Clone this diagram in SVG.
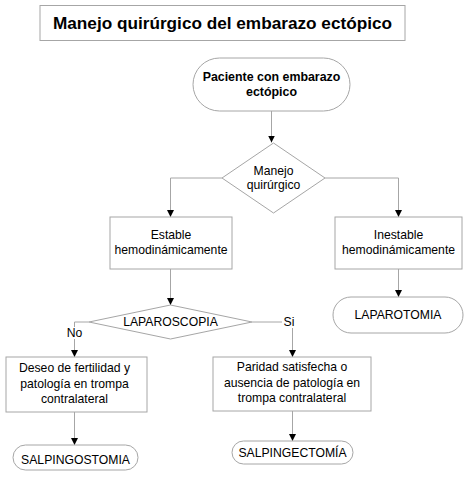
<svg xmlns="http://www.w3.org/2000/svg" width="474" height="479" viewBox="0 0 474 479">
<style>
.shape{fill:#fff;stroke:#a6a6a6;stroke-width:1}
.edge{fill:none;stroke:#a6a6a6;stroke-width:1}
text{font-family:"Liberation Sans",Arial,sans-serif;fill:#000;text-anchor:middle}
.r{font-size:12.2px}
.b{font-size:12.4px;font-weight:bold}
.t{font-size:17.2px;font-weight:bold}
</style>
<defs>
<marker id="ah" viewBox="0 0 8 8" refX="8" refY="4" markerWidth="7" markerHeight="7" markerUnits="userSpaceOnUse" orient="auto">
<path d="M0,0 L8,4 L0,8 z" fill="#000"/>
</marker>
</defs>
<rect width="474" height="479" fill="#fff"/>
<g id="title">
<rect class="shape" x="40" y="5.5" width="365" height="35"/>
<text class="t" x="222.5" y="28.5">Manejo quirúrgico del embarazo ectópico</text>
</g>
<g id="edges">
<path class="edge" d="M271.5,111 V142.5" marker-end="url(#ah)"/>
<path class="edge" d="M222,178 H170.5 V217" marker-end="url(#ah)"/>
<path class="edge" d="M325,178 H398.5 V217" marker-end="url(#ah)"/>
<path class="edge" d="M398.5,269 V297" marker-end="url(#ah)"/>
<path class="edge" d="M170.5,269 V305" marker-end="url(#ah)"/>
<path class="edge" d="M89,322 H74.5 V357" marker-end="url(#ah)"/>
<path class="edge" d="M252,322 H292.5 V357" marker-end="url(#ah)"/>
<path class="edge" d="M74.5,412 V445" marker-end="url(#ah)"/>
<path class="edge" d="M292.5,411 V441" marker-end="url(#ah)"/>
<rect x="66" y="327" width="17" height="12" fill="#fff"/>
<text class="r" x="74.5" y="337">No</text>
<rect x="282" y="314" width="14" height="14" fill="#fff"/>
<text class="r" x="289" y="326">Si</text>
</g>
<g id="start">
<rect class="shape" x="193" y="58" width="157" height="53" rx="26.5"/>
<text class="b" x="271.5" y="81">Paciente con embarazo</text>
<text class="b" x="271.5" y="96">ectópico</text>
</g>
<g id="decision1">
<polygon class="shape" points="273.5,143 325,178 273.5,213 222,178"/>
<text class="r" x="273.5" y="175">Manejo</text>
<text class="r" x="273.5" y="189">quirúrgico</text>
</g>
<g id="estable">
<rect class="shape" x="110" y="217" width="122" height="52"/>
<text class="r" x="171" y="239">Estable</text>
<text class="r" x="171" y="254">hemodinámicamente</text>
</g>
<g id="inestable">
<rect class="shape" x="335" y="217" width="127" height="52"/>
<text class="r" x="398.5" y="239">Inestable</text>
<text class="r" x="398.5" y="254">hemodinámicamente</text>
</g>
<g id="laparotomia">
<rect class="shape" x="333" y="297" width="130" height="36" rx="18"/>
<text class="r" x="398" y="319">LAPAROTOMIA</text>
</g>
<g id="laparoscopia">
<polygon class="shape" points="170.5,305 252,322 170.5,339 89,322"/>
<text class="r" x="170.5" y="326">LAPAROSCOPIA</text>
</g>
<g id="deseo">
<rect class="shape" x="6" y="357" width="141" height="55"/>
<text class="r" x="74.5" y="372">Deseo de fertilidad y</text>
<text class="r" x="74.5" y="388">patología en trompa</text>
<text class="r" x="74.5" y="403">contralateral</text>
</g>
<g id="paridad">
<rect class="shape" x="213" y="357" width="158" height="54"/>
<text class="r" x="292" y="371">Paridad satisfecha o</text>
<text class="r" x="292" y="387">ausencia de patología en</text>
<text class="r" x="292" y="402">trompa contralateral</text>
</g>
<g id="salpingostomia">
<rect class="shape" x="13" y="445" width="125" height="25" rx="12.5"/>
<text class="r" x="75.5" y="464">SALPINGOSTOMIA</text>
</g>
<g id="salpingectomia">
<rect class="shape" x="232" y="441" width="121" height="23" rx="11.5"/>
<text class="r" x="292.5" y="457">SALPINGECTOMÍA</text>
</g>
</svg>
